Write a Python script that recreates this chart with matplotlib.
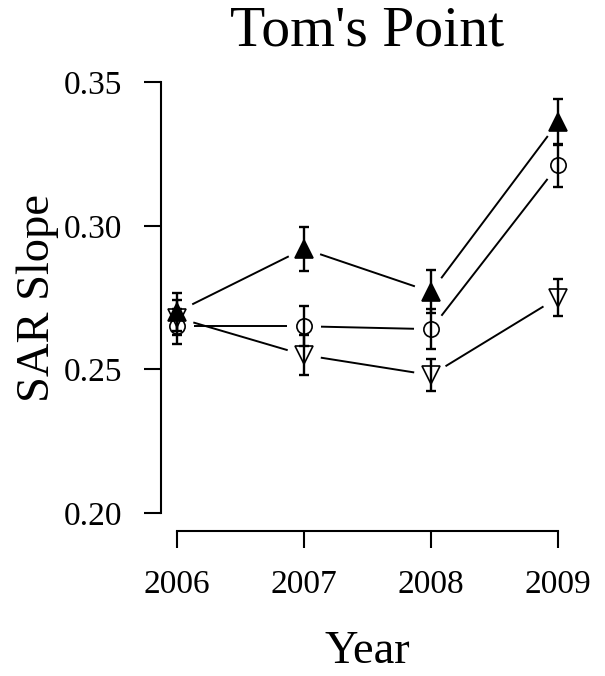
import numpy as np
import matplotlib.pyplot as plt

plt.rcParams['font.family'] = ['Liberation Serif', 'DejaVu Serif']

years = [2006, 2007, 2008, 2009]

# mean SAR slope and standard error per treatment
filled_up = [0.270, 0.292, 0.277, 0.336]
filled_up_se = [0.0065, 0.0077, 0.0075, 0.008]
circle = [0.265, 0.265, 0.264, 0.321]
circle_se = [0.006, 0.007, 0.007, 0.0075]
open_down = [0.268, 0.255, 0.248, 0.275]
open_down_se = [0.006, 0.007, 0.0055, 0.0065]

yticks = [0.20, 0.25, 0.30, 0.35]

fig = plt.figure(figsize=(6.05, 6.76), dpi=100)
ax = fig.add_axes([161 / 605, 1 - 531 / 676, 413 / 605, 466 / 676])
ax.set_xlim(2005.874, 2009.126)
ax.set_ylim(0.1937, 0.356)


def broken_line(xs, ys, gap=17):
    # R-style type="b": segments stop short of each point
    pts = ax.transData.transform(np.column_stack([xs, ys]))
    inv = ax.transData.inverted()
    for p0, p1 in zip(pts[:-1], pts[1:]):
        d = p1 - p0
        n = np.hypot(*d)
        if n <= 2 * gap:
            continue
        u = d / n
        a = inv.transform(p0 + u * gap)
        b = inv.transform(p1 - u * gap)
        ax.plot([a[0], b[0]], [a[1], b[1]], color='black', lw=1.4,
                solid_capstyle='butt')


series = [
    (filled_up, filled_up_se, '^', 'black', 13),
    (circle, circle_se, 'o', 'none', 11),
    (open_down, open_down_se, 'v', 'none', 13.5),
]

for vals, se, mk, fc, ms in series:
    broken_line(years, vals)
    ax.errorbar(years, vals, yerr=se, fmt='none', ecolor='black',
                elinewidth=1.7, capsize=3.4, capthick=1.7, zorder=3)
    ax.plot(years, vals, linestyle='none', marker=mk, markersize=ms,
            markerfacecolor=fc, markeredgecolor='black',
            markeredgewidth=1.2, zorder=4)

for side in ['top', 'right']:
    ax.spines[side].set_visible(False)
ax.spines['left'].set_bounds(0.20, 0.35)
ax.spines['bottom'].set_bounds(2006, 2009)
for side in ['left', 'bottom']:
    ax.spines[side].set_linewidth(1.5)

ax.set_xticks(years)
ax.set_xticklabels([str(y) for y in years])
ax.set_yticks(yticks)
ax.set_yticklabels(['%.2f' % v for v in yticks])
ax.tick_params(axis='both', direction='out', length=12, width=1.5,
               labelsize=24, pad=16)

ax.set_xlabel('Year', fontsize=33.5, labelpad=22)
ax.set_ylabel('SAR Slope', fontsize=33.5, labelpad=3)
ax.set_title("Tom's Point", fontsize=41.5, pad=14)

fig.savefig('out.png', dpi=100)
